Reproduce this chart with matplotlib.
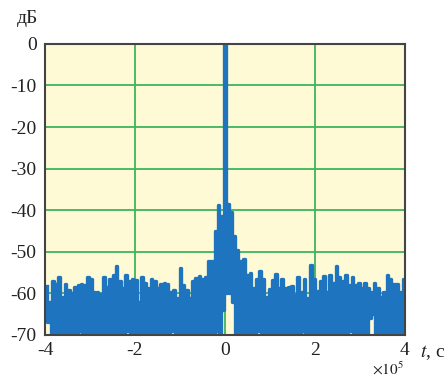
import numpy as np
import matplotlib
matplotlib.use('Agg')
import matplotlib.pyplot as plt

plt.rcParams['font.family'] = 'Liberation Serif'
plt.rcParams['mathtext.fontset'] = 'stix'
plt.rcParams['axes.unicode_minus'] = False

# peak level of each short segment of the trace, dB (read left to right)
tops_left = [-58.2, -62, -57.1, -57.8, -56, -61, -57.7, -59.2, -59.9, -58.4,
             -58, -57.7, -57.9, -56, -56.5, -59.8, -59.6, -60.2, -56, -58.5,
             -56.6, -55.7, -53.4, -57, -58.6, -55.5, -57, -56.6, -56.8,
             -62, -56, -57.6, -58.7, -56.5, -57, -58.7, -57.7, -57.6, -57.8,
             -59.6, -59.3, -61.2, -53.8, -58, -59.3, -61.2, -57, -56.3, -55.9,
             -56.5, -56, -52.2, -52.2,
             -45, -38.8, -41.4]
top_peak = [0]
tops_right = [-38.6, -40.5, -46.3, -49.5, -52.2, -51.7,
              -55.5, -55, -58.7, -56.5, -54.7, -56.5, -60.8, -59, -56.7, -55.4,
              -58.7, -56.5, -58.6, -58.4, -58.2, -60.3, -56, -59.6, -56.5, -61.2,
              -53.2, -56.6, -59.5,
              -57.1, -55.9, -59.8, -55.7, -57.6, -53.4, -56, -57, -55.7, -58,
              -56, -58, -57.6, -58.7, -57.5, -58.7, -59.6, -57.5, -58.7, -60.8,
              -59.6, -55.7, -56.6, -57.8, -57.7, -59.8, -56.6]

# lowest level between peaks, dB
lows_left = [-67, -71, -71, -71, -71, -71, -70, -71, -71, -71,
             -69, -71, -71, -71, -71, -71, -71, -70, -71, -71,
             -71, -71, -71, -71, -71, -69, -71, -71, -71, -71,
             -71, -71, -70, -71, -71, -71, -71, -71, -71, -69,
             -71, -71, -71, -71, -71, -71, -70, -71, -71, -71,
             -71, -71, -71, -69, -71, -64]
low_peak = [-60]
lows_right = [-60, -62, -71, -71, -71, -71, -71, -71, -71, -69,
              -71, -71, -71, -71, -71, -71, -70, -71, -71, -71,
              -71, -71, -71, -69, -71, -71, -71, -71, -71, -71,
              -71, -70, -71, -71, -71, -71, -71, -71, -69, -71,
              -71, -71, -71, -71, -66, -65, -71, -71, -71, -70,
              -71, -71, -71, -71, -71, -71]

x_ticks = [-4e5, -2e5, 0, 2e5, 4e5]
y_ticks = [0, -10, -20, -30, -40, -50, -60, -70]

tops = tops_left + top_peak + tops_right
lows = lows_left + low_peak + lows_right
signal = np.empty(2 * len(tops))
signal[0::2] = tops
signal[1::2] = lows

n = len(signal)
dt = 8e5 / n
i0 = int(np.argmax(signal))
t = (np.arange(n) - i0) * dt

fig = plt.figure(figsize=(4.45, 3.78), dpi=100)
ax = fig.add_axes([0.101, 0.114, 0.809, 0.770])
ax.set_facecolor('#fffad6')

ax.plot(t, signal, color='#1f74bf', lw=2.4, drawstyle='steps-mid', zorder=3)

ax.set_xlim(-4e5, 4e5)
ax.set_ylim(-70, 0)
ax.set_xticks(x_ticks)
ax.set_xticklabels([f'{v / 1e5:g}' for v in x_ticks])
ax.set_yticks(y_ticks)
ax.set_yticklabels([f'{v:g}' for v in y_ticks])
ax.tick_params(length=0, labelsize=14, colors='#222222')
ax.tick_params(axis='y', pad=6)
ax.tick_params(axis='x', pad=5)

ax.grid(True, color='#3db55e', lw=1.3, zorder=1)
ax.set_axisbelow(True)
for s in ax.spines.values():
    s.set_color('#444444')
    s.set_linewidth(1.5)
    s.set_zorder(4)

fig.text(0.061, 0.95, 'дБ', fontsize=14, ha='center', va='center', color='#222222')
fig.text(0.972, 0.068, '$t$, c', fontsize=14, ha='center', va='center', color='#222222')
fig.text(0.872, 0.008, r'$\times 10^5$', fontsize=11, ha='center', va='baseline', color='#222222')

plt.savefig('out.png', dpi=100)
plt.close()
